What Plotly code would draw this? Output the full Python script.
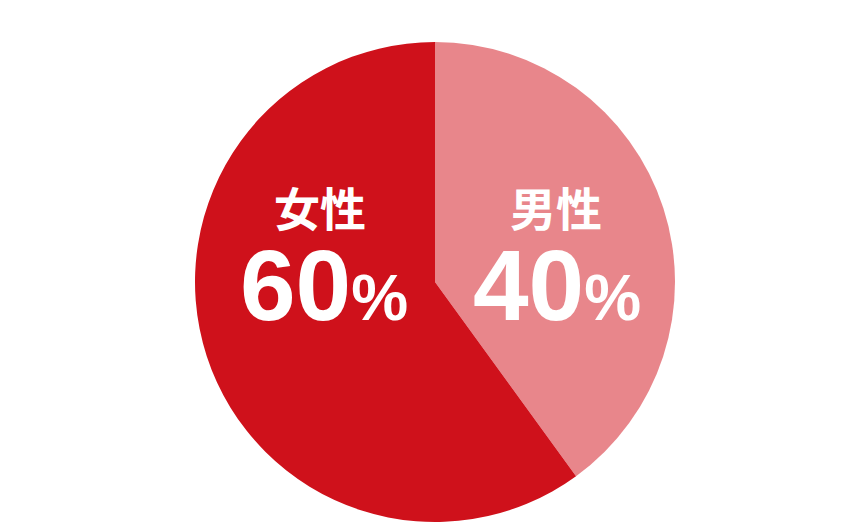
import plotly.graph_objects as go

# gender split
labels = ["男性", "女性"]
values = [40, 60]
colors = ["#E8868B", "#CF111B"]

W, H = 862, 523
OFF = 8  # page body margin
CX, CY, R = 435 - OFF, 282 - OFF, 240

fig = go.Figure(go.Pie(
    labels=labels, values=values, sort=False, direction="clockwise", rotation=0,
    marker=dict(colors=colors, line=dict(width=0)),
    textinfo="none", hoverinfo="skip", showlegend=False,
    domain=dict(x=[(CX - R) / W, (CX + R) / W], y=[1 - (CY + R) / H, 1 - (CY - R) / H]),
))

# label positions (px) for each slice, same order as labels
label_xy = [(548, 198), (312, 198)]
pct_xy = [(549, 277), (316, 277)]
for lab, val, (lx, ly), (px, py) in zip(labels, values, label_xy, pct_xy):
    fig.add_annotation(x=lx / W, y=1 - ly / H, xref="paper", yref="paper", text=lab,
                       showarrow=False, xanchor="center", yanchor="middle",
                       font=dict(family="Noto Sans CJK JP", size=46, color="white", weight="bold"))
    fig.add_annotation(x=px / W, y=1 - py / H, xref="paper", yref="paper",
                       text=str(val) + "<span style='font-size:64px'>%</span>",
                       showarrow=False, xanchor="center", yanchor="middle",
                       font=dict(family="Liberation Sans", size=100, color="white", weight="bold"))

fig.update_layout(width=W, height=H, margin=dict(l=0, r=0, t=0, b=0),
                  paper_bgcolor="white", plot_bgcolor="white")
fig.write_html("out.html")
